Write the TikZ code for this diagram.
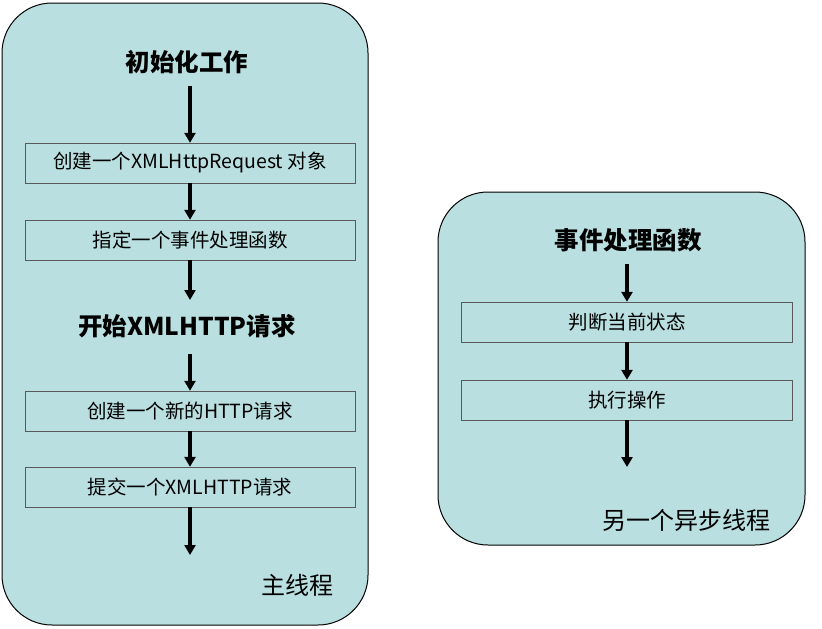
\documentclass[tikz,border=0pt]{standalone}
\usepackage{fontspec}
\setmainfont{Noto Sans CJK SC}
\usetikzlibrary{arrows.meta}
\begin{document}
\begin{tikzpicture}[x=1pt,y=-1pt,
  panel/.style={draw=black,line width=1pt,fill=teal0,rounded corners=50pt},
  stepbox/.style={draw=gray!70!black,fill=teal0,minimum height=40pt,inner sep=0pt,font=\fontsize{19.5}{22}\selectfont},
  title/.style={font=\fontsize{24.5}{28}\selectfont\bfseries},
  lab/.style={font=\fontsize{24}{28}\selectfont},
  arr/.style={-{Triangle[length=10pt,width=11pt]},line width=3.8pt}]
\definecolor{teal0}{HTML}{BADFE0}
\useasboundingbox (0,0) rectangle (822,629);
\draw[panel] (2,3) rectangle (368,625);
\draw[panel] (438,192) rectangle (805,545);
\node[title] (t1) at (187,62) {初始化工作};
\node[stepbox,minimum width=330pt] (b1) at (190,163) {创建一个XMLHttpRequest 对象};
\node[stepbox,minimum width=330pt] (b2) at (190,240) {指定一个事件处理函数};
\node[title] (t2) at (187,326) {开始XMLHTTP请求};
\node[stepbox,minimum width=330pt] (b3) at (190,411) {创建一个新的HTTP请求};
\node[stepbox,minimum width=330pt] (b4) at (190,487) {提交一个XMLHTTP请求};
\coordinate (e1) at (190,555);
\node[lab] (m1) at (297,585) {主线程};
\draw[arr] (190,86) -- (b1.north);
\draw[arr] (b1) -- (b2);
\draw[arr] (b2.south) -- (190,300);
\draw[arr] (190,354) -- (b3.north);
\draw[arr] (b3) -- (b4);
\draw[arr] (b4.south) -- (e1);
\node[title] (t3) at (628,240) {事件处理函数};
\node[stepbox,minimum width=331pt] (c1) at (627,322) {判断当前状态};
\node[stepbox,minimum width=331pt] (c2) at (627,400) {执行操作};
\coordinate (e2) at (627,467);
\node[lab] (m2) at (686,520) {另一个异步线程};
\draw[arr] (627,264) -- (c1.north);
\draw[arr] (c1) -- (c2);
\draw[arr] (c2.south) -- (e2);
\end{tikzpicture}
\end{document}
